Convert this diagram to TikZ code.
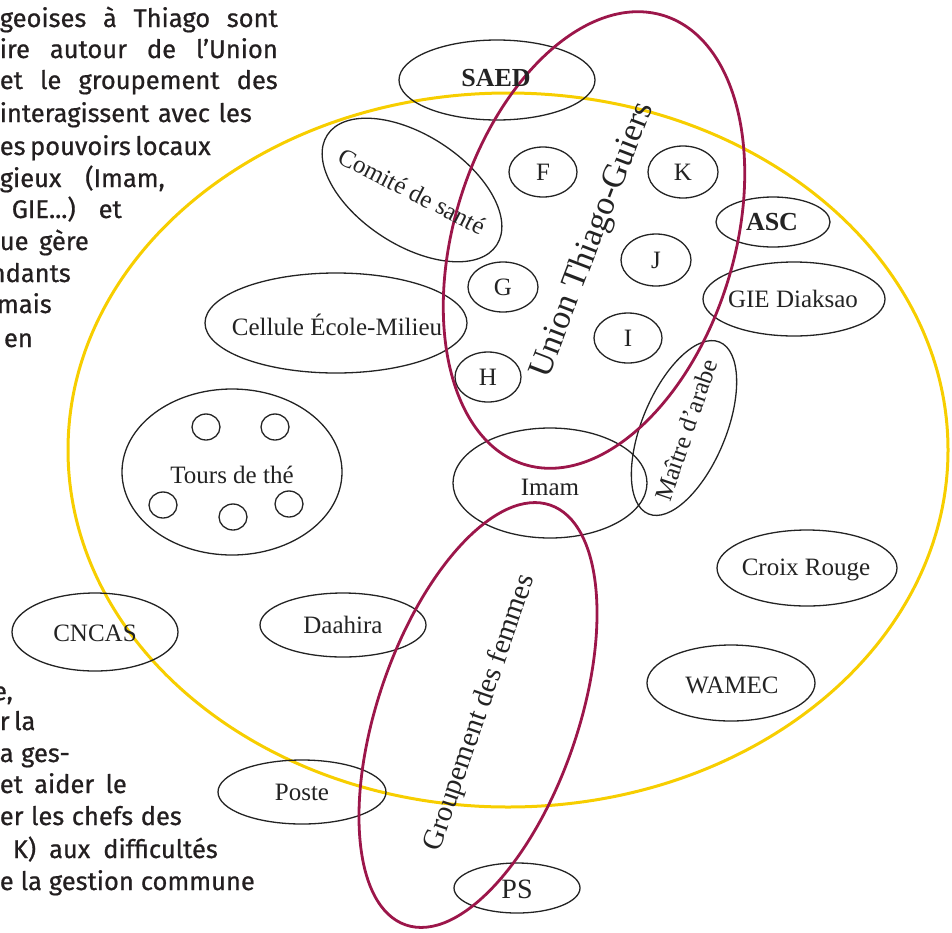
\documentclass[tikz,border=0pt]{standalone}
\usepackage{fontspec}
\setmainfont{Liberation Serif}
\newfontfamily\cuerpo{Fira Sans}[FakeBold=0.7]
\definecolor{amarillo}{RGB}{247,206,0}
\definecolor{carmesi}{RGB}{156,22,74}
\definecolor{negro}{RGB}{35,35,35}
\definecolor{texto}{RGB}{35,31,32}
\tikzset{
  contorno/.style={draw=negro, line width=1.3pt},
  grupo/.style={draw=carmesi, line width=2.8pt},
  etiqueta/.style={font=\fontsize{25}{30}\selectfont, inner sep=0pt, text=negro},
  parrafo/.style={font=\cuerpo\fontsize{25.5}{30}\selectfont, text=texto, inner sep=0pt, anchor=base east}
}

\begin{document}
\begin{tikzpicture}[x=1pt, y=-1pt]
        \useasboundingbox (0,0) rectangle (952,932);
        % Texto del documento (izquierda)
        \node[parrafo] (p1) at (278,27) {\makebox[278pt][s]{geoises à Thiago sont}};
        \node[parrafo] (p2) at (278,58) {\makebox[278pt][s]{ire autour de l’Union}};
        \node[parrafo] (p3) at (278,89) {\makebox[278pt][s]{et le groupement des}};
        \node[parrafo] (p4) at (252,122) {\makebox[252pt][s]{interagissent avec les}};
        \node[parrafo] (p5) at (208,155) {\makebox[208pt][s]{es pouvoirs locaux}};
        \node[parrafo] (p6) at (165,187) {\makebox[165pt][s]{gieux (Imam,}};
        \node[parrafo] (p7) at (122,218) {\makebox[110pt][s]{GIE...) et}};
        \node[parrafo] (p8) at (89,250) {\makebox[89pt][s]{ue gère}};
        \node[parrafo] (p9) at (71,282) {ndants};
        \node[parrafo] (p10) at (52,313) {mais};
        \node[parrafo] (p11) at (33,347) {en};

        \node[parrafo] (q1) at (13,700) {e,};
        \node[parrafo] (q2) at (32,730) {\makebox[32pt][s]{r la}};
        \node[parrafo] (q3) at (70,762) {\makebox[70pt][s]{a ges-}};
        \node[parrafo] (q4) at (127,793) {\makebox[127pt][s]{et aider le}};
        \node[parrafo] (q5) at (182,825) {\makebox[182pt][s]{er les chefs des}};
        \node[parrafo] (q6) at (218,858) {\makebox[205pt][s]{K) aux difficultés}};
        \node[parrafo] (q7) at (255,890) {\makebox[255pt][s]{e la gestion commune}};

        % Gran elipse amarilla (el pueblo)
        \draw[draw=amarillo, line width=3pt] (508,450) ellipse [x radius=440, y radius=357];

        % Elipses negras (actores)
        \draw[contorno] (497,80) ellipse [x radius=98, y radius=40];
        \draw[contorno, rotate around={-33:(412,190)}] (412,190) ellipse [x radius=101, y radius=55];
        \draw[contorno] (543,172) ellipse [x radius=34, y radius=25];
        \draw[contorno] (683,172) ellipse [x radius=35, y radius=26];
        \draw[contorno] (503,287) ellipse [x radius=35, y radius=25];
        \draw[contorno] (656,260) ellipse [x radius=35, y radius=26];
        \draw[contorno] (628,338) ellipse [x radius=34, y radius=25];
        \draw[contorno] (488,377) ellipse [x radius=33, y radius=25];
        \draw[contorno] (773,222) ellipse [x radius=57, y radius=25];
        \draw[contorno] (794,299) ellipse [x radius=91, y radius=37];
        \draw[contorno] (336,323) ellipse [x radius=131, y radius=50];
        \draw[contorno, rotate around={67.5:(684,428)}] (684,428) ellipse [x radius=93, y radius=42];
        \draw[contorno] (550,483) ellipse [x radius=97, y radius=55];
        \draw[contorno] (232,472) ellipse [x radius=110, y radius=83];
        \draw[contorno] (206,427) ellipse [x radius=14, y radius=13];
        \draw[contorno] (275,427) ellipse [x radius=14, y radius=13];
        \draw[contorno] (163,505) ellipse [x radius=14, y radius=13];
        \draw[contorno] (233,517) ellipse [x radius=14, y radius=13];
        \draw[contorno] (289,504) ellipse [x radius=14, y radius=13];
        \draw[contorno] (95,632) ellipse [x radius=83, y radius=39];
        \draw[contorno] (343,625) ellipse [x radius=83, y radius=32];
        \draw[contorno] (302,792) ellipse [x radius=84, y radius=32];
        \draw[contorno] (517,888) ellipse [x radius=63, y radius=25];
        \draw[contorno] (807,568) ellipse [x radius=90, y radius=38];
        \draw[contorno] (731,683) ellipse [x radius=84, y radius=38];

        % Elipses carmesi (Union y Groupement)
        \draw[grupo, rotate around={72.8:(594,240)}] (594,240) ellipse [x radius=235, y radius=140];
        \draw[grupo, rotate around={71:(478,715)}] (478,715) ellipse [x radius=222, y radius=100];

        % Texto de las elipses
        \node[etiqueta, font=\fontsize{26}{30}\selectfont\bfseries] (saed) at (496,78) {SAED};
        \node[etiqueta, rotate=-27] (sante) at (412,191) {Comité de santé};
        \node[etiqueta] (f) at (543,172) {F};
        \node[etiqueta] (k) at (683,172) {K};
        \node[etiqueta] (g) at (503,287) {G};
        \node[etiqueta] (j) at (656,260) {J};
        \node[etiqueta] (i) at (628,338) {I};
        \node[etiqueta] (h) at (488,377) {H};
        \node[etiqueta, font=\fontsize{34}{40}\selectfont, rotate=69] (union) at (593,240) {Union Thiago-Guiers};
        \node[etiqueta, font=\fontsize{26}{30}\selectfont\bfseries] (asc) at (772,222) {ASC};
        \node[etiqueta] (gie) at (793,299) {GIE Diaksao};
        \node[etiqueta] (cellule) at (337,325) {Cellule École-Milieu};
        \node[etiqueta, rotate=71] (maitre) at (686,430) {Maître d'arabe};
        \node[etiqueta] (imam) at (550,487) {Imam};
        \node[etiqueta] (tours) at (232,475) {Tours de thé};
        \node[etiqueta] (cncas) at (95,633) {CNCAS};
        \node[etiqueta] (daahira) at (343,625) {Daahira};
        \node[etiqueta] (poste) at (302,792) {Poste};
        \node[etiqueta, font=\fontsize{28}{32}\selectfont] (ps) at (517,889) {PS};
        \node[etiqueta] (croix) at (806,570) {Croix Rouge};
        \node[etiqueta] (wamec) at (732,685) {WAMEC};
        \node[etiqueta, font=\fontsize{29}{34}\selectfont, rotate=71] (femmes) at (480,713) {Groupement des femmes};
\end{tikzpicture}
\end{document}
